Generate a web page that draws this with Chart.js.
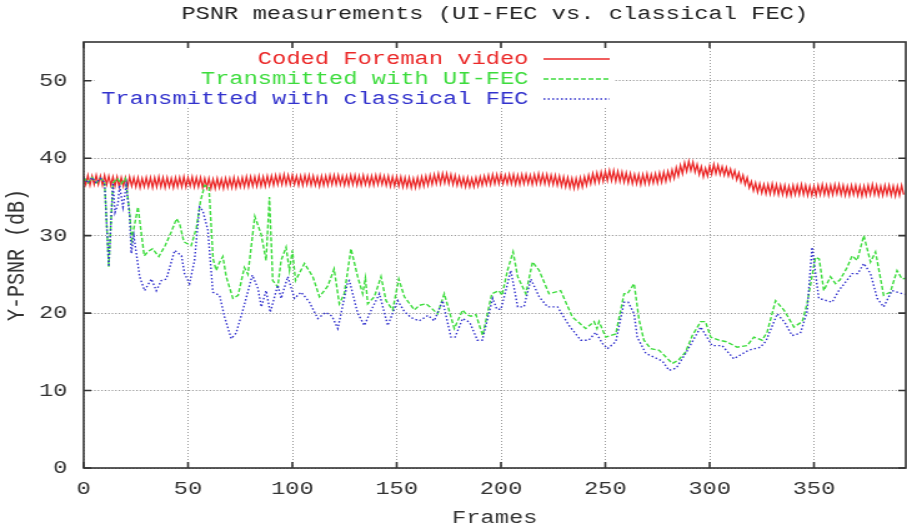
<!DOCTYPE html>
<html>
<head>
<meta charset="utf-8">
<script src="https://cdn.jsdelivr.net/npm/chart.js@4.4.1/dist/chart.umd.min.js"></script>
<style>
body { margin: 0; background: #fff; }
#grafica { display: block; }
</style>
</head>
<body>
<!-- el canvas se dibuja angosto y el estilo inline lo estira, como la imagen original -->
<canvas id="grafica" width="726" height="529" style="width:907px;height:529px"></canvas>
<script>
const titulo = 'PSNR measurements (UI-FEC vs. classical FEC)';
const tituloX = 'Frames';
const tituloY = 'Y-PSNR (dB)';
const etiquetas = ['Coded Foreman video', 'Transmitted with UI-FEC', 'Transmitted with classical FEC'];
const ticksX = [0, 50, 100, 150, 200, 250, 300, 350];
const ticksY = [0, 10, 20, 30, 40, 50];

// Coded Foreman video, un valor por frame (0..393)
const rojo = [
    37.7, 36.6, 37.8, 36.5, 37.7, 36.6, 37.8, 36.6, 37.7, 36.5,
    37.8, 36.6, 37.7, 36.5, 37.6, 36.4, 37.6, 36.3, 37.5, 36.4,
    37.5, 36.3, 37.6, 36.4, 37.5, 36.3, 37.5, 36.2, 37.4, 36.3,
    37.5, 36.3, 37.5, 36.2, 37.5, 36.3, 37.6, 36.3, 37.5, 36.2,
    37.5, 36.3, 37.4, 36.2, 37.5, 36.3, 37.5, 36.3, 37.6, 36.3,
    37.5, 36.4, 37.6, 36.3, 37.5, 36.3, 37.5, 36.2, 37.4, 36.2,
    37.4, 36.1, 37.3, 36.1, 37.4, 36.2, 37.3, 36.1, 37.4, 36.2,
    37.4, 36.2, 37.5, 36.2, 37.4, 36.3, 37.5, 36.3, 37.6, 36.3,
    37.6, 36.4, 37.6, 36.4, 37.7, 36.4, 37.6, 36.4, 37.7, 36.5,
    37.7, 36.5, 37.8, 36.6, 37.8, 36.6, 37.9, 36.6, 37.8, 36.6,
    37.8, 36.6, 37.7, 36.5, 37.7, 36.5, 37.8, 36.6, 37.8, 36.5,
    37.7, 36.5, 37.6, 36.4, 37.7, 36.5, 37.7, 36.5, 37.8, 36.6,
    37.8, 36.6, 37.8, 36.6, 37.7, 36.5, 37.7, 36.5, 37.8, 36.6,
    37.8, 36.5, 37.7, 36.5, 37.8, 36.6, 37.7, 36.5, 37.7, 36.5,
    37.8, 36.6, 37.8, 36.6, 37.7, 36.5, 37.7, 36.4, 37.6, 36.4,
    37.6, 36.4, 37.6, 36.3, 37.5, 36.3, 37.5, 36.2, 37.4, 36.2,
    37.5, 36.3, 37.6, 36.4, 37.7, 36.5, 37.8, 36.6, 37.9, 36.7,
    38.0, 36.7, 38.0, 36.8, 38.0, 36.7, 37.9, 36.6, 37.8, 36.5,
    37.6, 36.4, 37.5, 36.3, 37.5, 36.3, 37.4, 36.3, 37.5, 36.4,
    37.6, 36.5, 37.7, 36.6, 37.8, 36.6, 37.9, 36.7, 37.9, 36.7,
    37.9, 36.7, 37.8, 36.7, 37.9, 36.7, 37.9, 36.6, 37.8, 36.6,
    37.9, 36.7, 37.9, 36.7, 37.8, 36.6, 37.9, 36.7, 38.0, 36.7,
    37.9, 36.7, 37.9, 36.6, 37.8, 36.6, 37.8, 36.5, 37.7, 36.4,
    37.6, 36.3, 37.5, 36.2, 37.4, 36.1, 37.4, 36.2, 37.5, 36.3,
    37.6, 36.5, 37.8, 36.7, 38.0, 36.8, 38.1, 36.9, 38.2, 37.0,
    38.3, 37.1, 38.4, 37.1, 38.4, 37.0, 38.3, 37.0, 38.2, 36.9,
    38.1, 36.8, 38.0, 36.7, 37.9, 36.7, 37.9, 36.6, 37.9, 36.7,
    38.0, 36.7, 37.9, 36.8, 38.0, 36.8, 38.1, 36.9, 38.2, 37.0,
    38.3, 37.2, 38.5, 37.4, 38.8, 37.7, 39.1, 38.0, 39.4, 38.3,
    39.6, 38.4, 39.5, 38.2, 39.2, 37.9, 38.9, 37.6, 38.7, 37.7,
    39.0, 37.9, 39.2, 38.0, 39.1, 37.9, 38.9, 37.8, 38.8, 37.7,
    38.6, 37.5, 38.4, 37.2, 38.1, 36.9, 37.8, 36.6, 37.5, 36.2,
    37.0, 35.8, 36.8, 35.6, 36.7, 35.5, 36.6, 35.4, 36.6, 35.4,
    36.7, 35.4, 36.6, 35.3, 36.5, 35.3, 36.5, 35.2, 36.4, 35.2,
    36.5, 35.3, 36.5, 35.3, 36.6, 35.3, 36.5, 35.2, 36.4, 35.2,
    36.4, 35.2, 36.5, 35.3, 36.6, 35.3, 36.5, 35.2, 36.5, 35.3,
    36.6, 35.4, 36.6, 35.3, 36.5, 35.2, 36.4, 35.2, 36.5, 35.3,
    36.5, 35.2, 36.4, 35.1, 36.4, 35.2, 36.5, 35.3, 36.6, 35.3,
    36.5, 35.2, 36.4, 35.2, 36.5, 35.3, 36.5, 35.2, 36.4, 35.1,
    36.4, 35.2, 36.5, 35.3
];

// Transmitted with UI-FEC (frame, dB)
const verdeFrames = [
    0, 2, 4, 6, 8, 10, 12, 14, 16, 18, 20, 22, 23, 26, 29, 31, 33, 36, 39, 42,
    44.5, 46, 48, 51.5, 54, 56, 58, 60, 62, 63.5, 65, 66.7, 68.3, 71.5, 74, 77, 78.7, 82, 85, 87.4,
    89, 90.6, 93, 94.6, 97, 98.6, 100, 101.5, 105.8, 109.8, 113, 117, 120, 122.5, 124.9, 128.1, 131.3, 133.7, 135, 136.1,
    139.3, 142.5, 144.9, 148.1, 151, 153.7, 158.5, 160.8, 164, 166, 169.6, 172.8, 177.6, 181.6, 183.5, 185.6, 188, 191.2, 195.6, 199,
    200.5, 203.1, 205.8, 208, 211.9, 215.1, 218.3, 223, 228.6, 234.2, 240.6, 244.6, 246, 247, 250.2, 255, 259, 260.6, 263.8, 266.2,
    268.5, 271.8, 275.8, 282.1, 285, 288.5, 291.7, 295.7, 298, 300.5, 304.5, 308, 313.2, 318, 321.2, 325.2, 327.6, 331.6, 335.6, 340.4,
    344.4, 346.7, 350.7, 352.5, 354.7, 357.9, 360.3, 362.5, 365.9, 368.3, 370.7, 373.9, 377.1, 379.5, 383.4, 386.6, 389.8, 392.2, 393.8
];
const verdeValores = [
    37.5, 36.8, 37.5, 36.8, 37.4, 36.9, 26.0, 36.8, 37.4, 36.7, 37.4, 33.0, 29.5, 33.7, 27.4, 28.0, 28.3, 27.3, 28.7, 30.5,
    32.2, 31.5, 29.2, 28.7, 31.0, 34.5, 36.5, 36.3, 27.0, 25.5, 26.5, 27.3, 24.7, 21.9, 22.3, 25.9, 25.0, 32.5, 30.2, 26.8,
    35.0, 24.2, 23.4, 26.8, 28.5, 25.5, 28.1, 24.2, 26.4, 24.7, 22.1, 23.5, 25.7, 21.2, 22.5, 28.3, 24.7, 22.5, 24.5, 21.2,
    22.1, 24.7, 21.6, 20.4, 24.4, 22.1, 20.4, 21.0, 21.2, 20.8, 19.9, 22.5, 18.0, 20.4, 19.8, 19.6, 19.8, 17.1, 22.5, 22.9,
    22.3, 25.5, 27.9, 24.7, 22.5, 26.6, 25.5, 22.5, 22.9, 19.5, 18.0, 18.9, 18.0, 18.9, 16.9, 17.3, 22.5, 22.5, 23.8, 19.1,
    16.5, 15.4, 15.2, 13.5, 13.9, 15.0, 17.1, 18.9, 18.9, 16.9, 16.5, 16.3, 15.6, 15.8, 16.9, 16.5, 17.6, 21.6, 20.4, 18.2,
    18.9, 21.2, 27.2, 27.0, 22.9, 24.7, 23.8, 24.3, 25.9, 27.4, 26.8, 30.0, 26.6, 27.9, 22.3, 22.7, 25.5, 24.4, 24.5
];

// Transmitted with classical FEC (frame, dB)
const azulFrames = [
    0, 2, 4, 6, 8, 10, 12, 14, 15, 16.4, 17.2, 18.8, 20.4, 22, 22.8, 24, 26.8, 29.2, 32.4, 34.8,
    37.2, 39.6, 43.6, 46.9, 48.3, 50.7, 53.1, 55.5, 57.1, 59.5, 61.9, 65.1, 67.5, 70.7, 73, 76.3, 80.8, 83.5, 85.1, 87.4,
    89.4, 93, 94.6, 97.8, 101, 104.2, 108.2, 112.2, 116, 119, 121.8, 126.5, 127.3, 131.3, 134.5, 137.3, 141.7, 145.7, 150.5, 153.7,
    157, 160.8, 165, 168, 172, 176, 178, 181.6, 185, 188.7, 191, 196, 198, 200, 204.7, 208, 211, 214.3, 218.3, 222.3,
    227.1, 232.6, 238.2, 242, 245.4, 248.6, 251, 255, 259, 261, 263.8, 265.3, 269.4, 274.2, 277.4, 280.5, 284, 288.5, 295.7, 301.2,
    306, 311.6, 318.6, 324.4, 327, 332.4, 336, 339.5, 343.5, 346.7, 349.1, 352.3, 358.7, 361.9, 368.3, 371, 373.9, 377.1, 380.3, 383.4,
    387.4, 393.8
];
const azulValores = [
    37.5, 36.8, 37.5, 36.8, 37.4, 36.9, 26.0, 36.8, 33.0, 34.1, 36.5, 33.7, 36.5, 32.5, 27.7, 30.0, 24.7, 22.9, 24.4, 22.9,
    24.2, 24.4, 28.1, 27.4, 25.1, 23.8, 26.8, 33.7, 33.2, 30.7, 22.7, 22.3, 19.5, 16.7, 17.4, 20.4, 24.9, 23.2, 20.8, 22.9,
    20.1, 23.6, 21.9, 24.7, 21.9, 22.7, 21.4, 19.3, 20.1, 19.6, 18.0, 24.0, 24.2, 20.0, 18.4, 20.1, 22.5, 18.4, 21.6, 20.2,
    19.4, 19.0, 19.7, 19.0, 21.6, 16.9, 16.9, 19.3, 18.8, 16.5, 16.5, 21.9, 20.5, 20.5, 25.5, 20.8, 20.8, 24.4, 22.1, 20.8,
    20.8, 18.4, 16.5, 16.5, 17.5, 16.1, 15.4, 16.3, 21.4, 21.4, 19.9, 16.9, 14.8, 14.2, 13.8, 12.6, 12.9, 14.8, 18.2, 15.8,
    15.8, 14.1, 15.2, 15.6, 16.4, 19.9, 18.8, 17.1, 17.4, 20.2, 28.5, 21.9, 21.4, 22.9, 25.1, 25.1, 26.4, 25.1, 21.9, 20.8,
    22.9, 22.4
];

const fuente = "'Liberation Mono', 'DejaVu Sans Mono', monospace";
const tinta = '#333';

// Tapa la rejilla detrás de la leyenda, marco con ticks hacia adentro y leyenda a la gnuplot
const marco = {
    id: 'marco',
    beforeDatasetsDraw(chart) {
        const c = chart.ctx, a = chart.chartArea;
        c.save();
        c.fillStyle = '#fff';
        c.fillRect(a.left + 9, a.top + 1, 492 - a.left - 9, 107 - a.top - 1);
        c.restore();
    },
    afterDatasetsDraw(chart) {
        const c = chart.ctx, a = chart.chartArea;
        const x = chart.scales.x, y = chart.scales.y;
        c.save();
        c.strokeStyle = tinta;
        c.lineWidth = 1.6;
        c.strokeRect(a.left, a.top, a.right - a.left, a.bottom - a.top);
        c.beginPath();
        ticksX.forEach(v => {
            const px = x.getPixelForValue(v);
            c.moveTo(px, a.bottom); c.lineTo(px, a.bottom - 6);
            c.moveTo(px, a.top); c.lineTo(px, a.top + 6);
        });
        ticksY.forEach(v => {
            const py = y.getPixelForValue(v);
            c.moveTo(a.left, py); c.lineTo(a.left + 6, py);
            c.moveTo(a.right, py); c.lineTo(a.right - 6, py);
        });
        c.stroke();
        c.restore();
    },
    afterDraw(chart) {
        const c = chart.ctx;
        c.save();
        c.font = `19px ${fuente}`;
        c.textAlign = 'right';
        c.textBaseline = 'middle';
        etiquetas.forEach((txt, i) => {
            const ds = chart.data.datasets[i];
            const yy = 59 + i * 20;
            c.fillStyle = ds.borderColor;
            c.fillText(txt, 423, yy);
            c.strokeStyle = ds.borderColor;
            c.lineWidth = 1.3;
            c.setLineDash(ds.borderDash || []);
            c.beginPath();
            c.moveTo(435, yy);
            c.lineTo(488, yy);
            c.stroke();
        });
        c.restore();
    }
};

const ctx = document.getElementById('grafica').getContext('2d');

window.myChart = new Chart(ctx, {
    type: 'line',
    data: {
        datasets: [
            {
                label: etiquetas[0],
                data: rojo.map((v, i) => ({ x: i, y: v })),
                borderColor: 'rgb(235, 40, 40)',
                borderWidth: 1.3,
                order: 3
            },
            {
                label: etiquetas[1],
                data: verdeFrames.map((f, i) => ({ x: f, y: verdeValores[i] })),
                borderColor: 'rgb(60, 220, 60)',
                borderWidth: 1.4,
                borderDash: [4, 2],
                order: 2
            },
            {
                label: etiquetas[2],
                data: azulFrames.map((f, i) => ({ x: f, y: azulValores[i] })),
                borderColor: 'rgb(50, 50, 205)',
                borderWidth: 1.4,
                borderDash: [1.5, 2],
                order: 1
            }
        ]
    },
    options: {
        responsive: false,
        devicePixelRatio: 1,
        animation: false,
        events: [],
        elements: {
            point: { radius: 0 },
            line: { tension: 0 }
        },
        layout: { padding: { left: 0, right: 1, top: 0, bottom: 0 } },
        plugins: {
            legend: { display: false },
            tooltip: { enabled: false },
            title: {
                display: true,
                text: titulo,
                fullSize: false,
                color: '#222',
                font: { family: fuente, size: 19, weight: 'normal' },
                padding: { top: 2.6, bottom: 16.6 }
            }
        },
        scales: {
            x: {
                type: 'linear',
                min: 0,
                max: 394,
                afterBuildTicks: s => { s.ticks = ticksX.map(v => ({ value: v })); },
                afterFit: s => { s.height = 61; },
                ticks: {
                    color: tinta,
                    font: { family: fuente, size: 19 },
                    padding: 10,
                    maxRotation: 0,
                    autoSkip: false
                },
                grid: { color: '#999', lineWidth: 1, drawTicks: false },
                border: { display: false, dash: [1, 2] },
                title: {
                    display: true,
                    text: tituloX,
                    color: tinta,
                    font: { family: fuente, size: 19 },
                    padding: { top: 0, bottom: 0 }
                }
            },
            y: {
                min: 0,
                max: 55,
                afterBuildTicks: s => { s.ticks = ticksY.map(v => ({ value: v })); },
                afterFit: s => { s.width = 67; },
                ticks: {
                    color: tinta,
                    font: { family: fuente, size: 19 },
                    padding: 13
                },
                grid: { color: '#999', lineWidth: 1, drawTicks: false },
                border: { display: false, dash: [1.2, 1.6] },
                title: {
                    display: true,
                    text: tituloY,
                    color: tinta,
                    font: { family: fuente, size: 20 },
                    padding: { top: 1.4, bottom: 0 }
                }
            }
        }
    },
    plugins: [marco]
});
</script>
</body>
</html>
